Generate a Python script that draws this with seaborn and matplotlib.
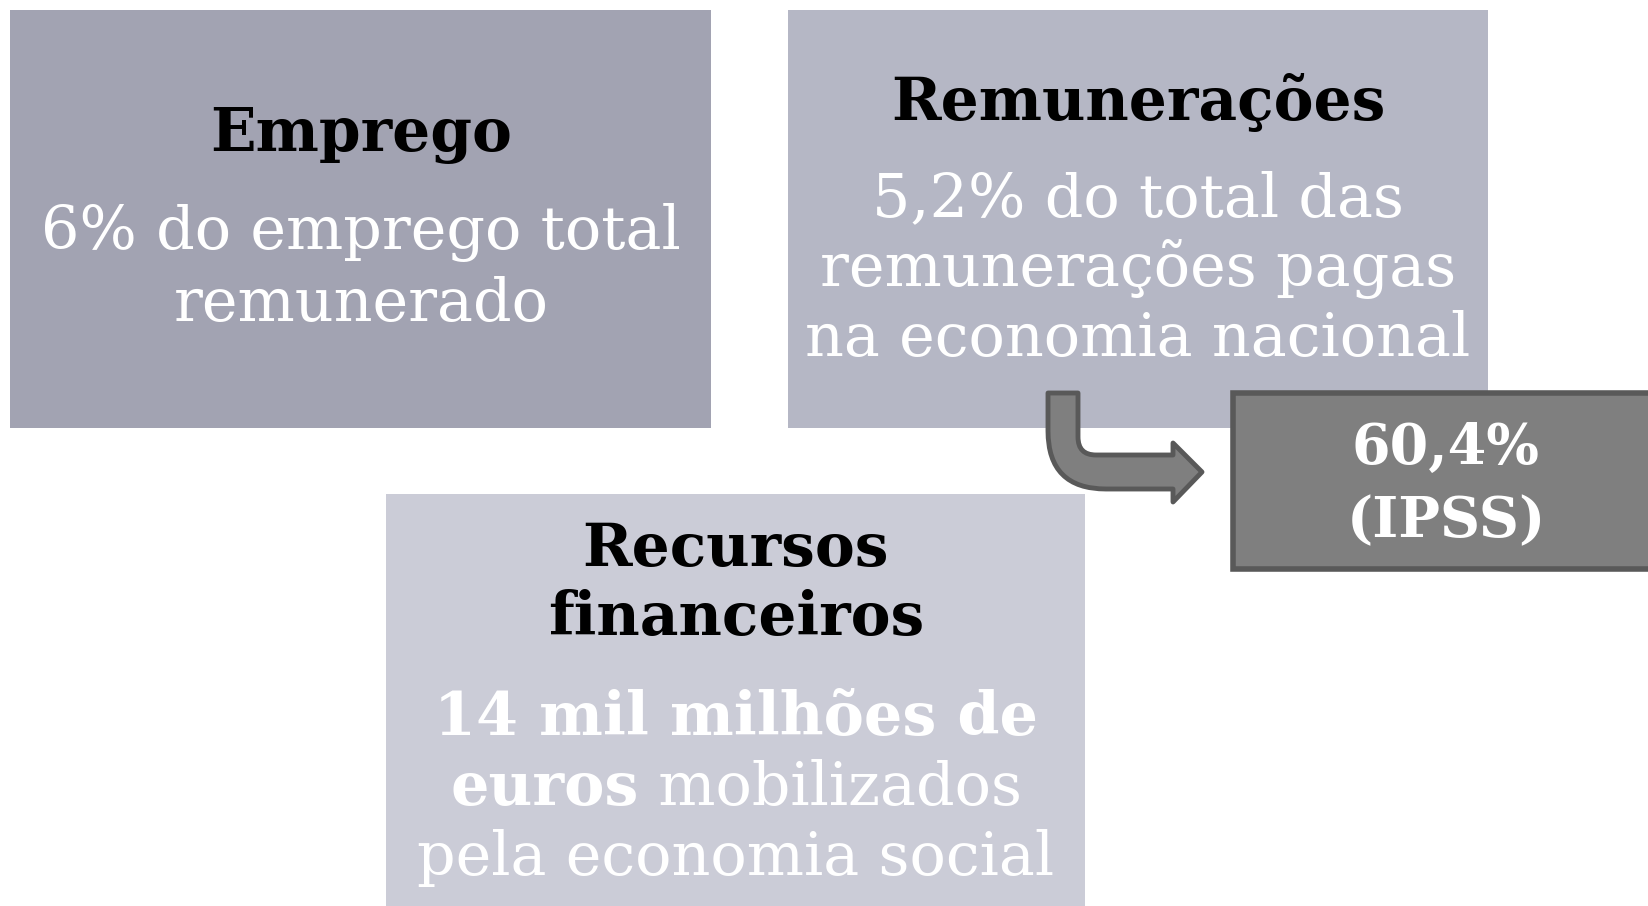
import matplotlib
matplotlib.use("Agg")
import matplotlib.pyplot as plt
import seaborn as sns
from matplotlib.patches import Rectangle, PathPatch
from matplotlib.path import Path

# data
titles = ["Emprego", "Remunerações", "Recursos\nfinanceiros"]
body_lines = [
    ["6% do emprego total", "remunerado"],
    ["5,2% do total das", "remunerações pagas", "na economia nacional"],
]
resources_value = "14 mil milhões de"
resources_unit = "euros"
resources_rest = [" mobilizados", "pela economia social"]
ipss_share = ["60,4%", "(IPSS)"]

sns.set_theme(style="white")
plt.rcParams["font.family"] = ["DejaVu Serif", "DejaVu Sans"]

W, H = 1649, 906
fig = plt.figure(figsize=(W / 100, H / 100), dpi=100)
ax = fig.add_axes([0, 0, 1, 1])
ax.set_xlim(0, W)
ax.set_ylim(H, 0)
ax.axis("off")

box_colors = ["#a2a3b2", "#b5b7c5", "#cbccd7"]
boxes = [(10, 10, 701, 418), (788, 10, 700, 418), (386, 494, 699, 420)]
for (x, y, w, h), c in zip(boxes, box_colors):
    ax.add_patch(Rectangle((x, y), w, h, facecolor=c, edgecolor="none"))

title_size = 43
body_size = 43.5

# box 1
ax.text(361, 135, titles[0], ha="center", va="center", fontsize=title_size,
        fontweight="bold", color="black")
for i, line in enumerate(body_lines[0]):
    ax.text(361, 233 + i * 71, line, ha="center", va="center",
            fontsize=body_size, color="white")

# box 2
ax.text(1138, 102, titles[1], ha="center", va="center", fontsize=title_size,
        fontweight="bold", color="black")
for i, line in enumerate(body_lines[1]):
    ax.text(1138, 199 + i * 70, line, ha="center", va="center",
            fontsize=body_size, color="white")

# box 3
for i, line in enumerate(titles[2].split("\n")):
    ax.text(736, 549 + i * 69, line, ha="center", va="center",
            fontsize=title_size, fontweight="bold", color="black")
ax.text(736, 718, resources_value, ha="center", va="center",
        fontsize=body_size, fontweight="bold", color="white")

# mixed bold/regular line, centred by measuring
fig.canvas.draw()
renderer = fig.canvas.get_renderer()
t1 = ax.text(0, 788, resources_unit, ha="left", va="center",
             fontsize=body_size, fontweight="bold", color="white")
t2 = ax.text(0, 788, resources_rest[0], ha="left", va="center",
             fontsize=body_size, color="white")
w1 = t1.get_window_extent(renderer).width
w2 = t2.get_window_extent(renderer).width
x0 = 736 - (w1 + w2) / 2
t1.set_x(x0)
t2.set_x(x0 + w1)
ax.text(736, 858, resources_rest[1], ha="center", va="center",
        fontsize=body_size, color="white")

# dark IPSS box
ax.add_patch(Rectangle((1233, 393), 430, 176, facecolor="#7f7f7f",
                       edgecolor="#595959", linewidth=4, clip_on=False))
for i, line in enumerate(ipss_share):
    ax.text(1446, 448 + i * 74, line, ha="center", va="center",
            fontsize=40, fontweight="bold", color="white")

# bent arrow
xl, xr, ytop = 1048, 1078, 393
yt, yb = 455, 489
hx, tipx = 1173, 1202
ht, hb = 443, 502
ro, ri = 58, 18
verts = [
    (xl, ytop), (xl, yb - ro), (xl, yb), (xl + ro, yb),
    (hx, yb), (hx, hb), (tipx, (yt + yb) / 2), (hx, ht), (hx, yt),
    (xr + ri, yt), (xr, yt), (xr, yt - ri), (xr, ytop), (xl, ytop),
]
codes = [Path.MOVETO, Path.LINETO, Path.CURVE3, Path.CURVE3,
         Path.LINETO, Path.LINETO, Path.LINETO, Path.LINETO, Path.LINETO,
         Path.LINETO, Path.CURVE3, Path.CURVE3, Path.LINETO, Path.CLOSEPOLY]
ax.add_patch(PathPatch(Path(verts, codes), facecolor="#7f7f7f",
                       edgecolor="#595959", linewidth=3.5, joinstyle="round"))

fig.savefig("out.png", dpi=100)
